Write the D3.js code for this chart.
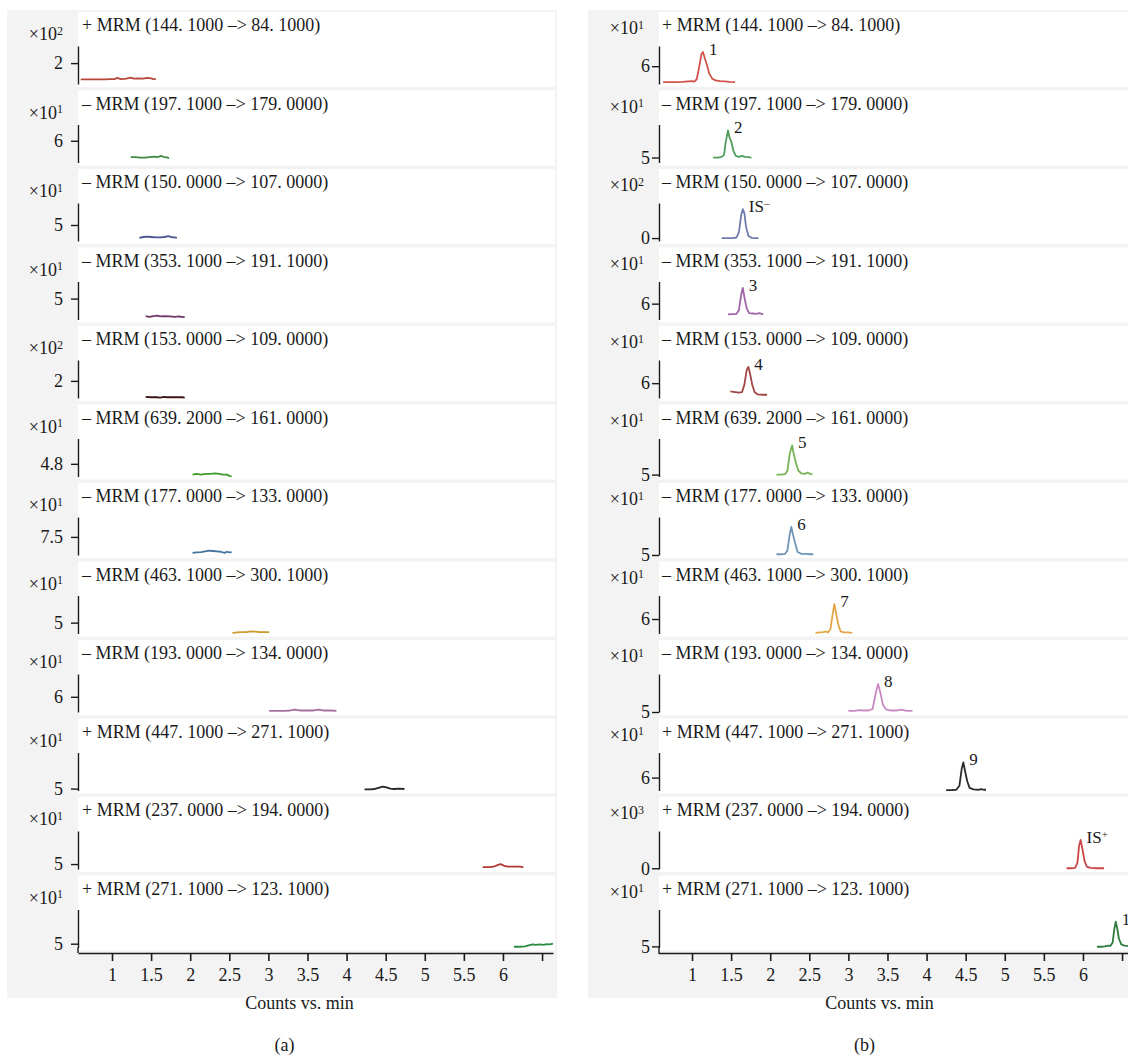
<!DOCTYPE html>
<html>
<head>
<meta charset="utf-8">
<script src="https://cdn.jsdelivr.net/npm/d3@7"></script>
<style>
body { margin: 0; background: #fff; }
svg text { font-family: "Liberation Serif", "DejaVu Serif", serif !important; fill: #1a1a1a; }
</style>
</head>
<body>
<svg id="chart" width="1128" height="1059" style="font-family: 'Liberation Serif', serif"></svg>
<script>
// transitions, same order in both panels
const rowLabels = [
    '+ MRM (144. 1000 \u2013> 84. 1000)',
    '\u2013 MRM (197. 1000 \u2013> 179. 0000)',
    '\u2013 MRM (150. 0000 \u2013> 107. 0000)',
    '\u2013 MRM (353. 1000 \u2013> 191. 1000)',
    '\u2013 MRM (153. 0000 \u2013> 109. 0000)',
    '\u2013 MRM (639. 2000 \u2013> 161. 0000)',
    '\u2013 MRM (177. 0000 \u2013> 133. 0000)',
    '\u2013 MRM (463. 1000 \u2013> 300. 1000)',
    '\u2013 MRM (193. 0000 \u2013> 134. 0000)',
    '+ MRM (447. 1000 \u2013> 271. 1000)',
    '+ MRM (237. 0000 \u2013> 194. 0000)',
    '+ MRM (271. 1000 \u2013> 123. 1000)'
];
const timeTicks = [1, 1.5, 2, 2.5, 3, 3.5, 4, 4.5, 5, 5.5, 6, 6.5];
const timeDomain = [0.565, 6.64];

// panel (a): blank
const expA = [2, 1, 1, 1, 2, 1, 1, 1, 1, 1, 1, 1];
const tickA = [2, 6, 5, 5, 2, 4.8, 7.5, 5, 6, 5, 5, 5];
const yDomA = [[1.45, 2.45], [5.2, 6.6], [4.6, 5.55], [4.45, 5.45], [1.55, 2.55], [4.6, 5.2],
    [7.0, 8.05], [4.7, 5.75], [5.6, 6.6], [4.95, 5.95], [4.87, 5.87], [4.9, 5.9]];
const traceA = [
    [[0.60,1.57],[0.70,1.57],[0.80,1.57],[0.90,1.57],[0.98,1.58],[1.03,1.58],[1.07,1.61],[1.11,1.58],[1.18,1.59],[1.24,1.62],[1.28,1.59],[1.34,1.60],[1.40,1.59],[1.45,1.61],[1.50,1.60],[1.53,1.58],[1.56,1.58]],
    [[1.24,5.40],[1.30,5.40],[1.36,5.38],[1.42,5.38],[1.48,5.40],[1.54,5.42],[1.58,5.40],[1.63,5.44],[1.67,5.40],[1.70,5.39],[1.73,5.36]],
    [[1.35,4.68],[1.40,4.70],[1.45,4.71],[1.50,4.70],[1.56,4.69],[1.62,4.69],[1.67,4.70],[1.72,4.72],[1.77,4.69],[1.80,4.69],[1.83,4.68]],
    [[1.43,4.54],[1.48,4.52],[1.53,4.54],[1.58,4.55],[1.62,4.53],[1.68,4.54],[1.74,4.53],[1.80,4.52],[1.86,4.53],[1.90,4.51],[1.93,4.52]],
    [[1.43,1.58],[1.50,1.57],[1.57,1.57],[1.62,1.56],[1.66,1.58],[1.70,1.57],[1.76,1.57],[1.83,1.57],[1.90,1.57],[1.93,1.56]],
    [[2.03,4.63],[2.08,4.64],[2.14,4.63],[2.20,4.64],[2.26,4.64],[2.32,4.65],[2.37,4.64],[2.42,4.63],[2.47,4.63],[2.50,4.61],[2.53,4.60]],
    [[2.03,7.06],[2.08,7.07],[2.14,7.08],[2.19,7.10],[2.24,7.12],[2.29,7.11],[2.34,7.10],[2.39,7.09],[2.44,7.06],[2.47,7.09],[2.50,7.07],[2.53,7.08]],
    [[2.54,4.72],[2.60,4.73],[2.66,4.74],[2.72,4.74],[2.78,4.76],[2.83,4.75],[2.89,4.74],[2.95,4.74],[3.01,4.74]],
    [[3.01,5.63],[3.10,5.63],[3.20,5.63],[3.28,5.64],[3.34,5.66],[3.40,5.64],[3.50,5.64],[3.58,5.64],[3.64,5.66],[3.70,5.64],[3.80,5.64],[3.87,5.63]],
    [[4.23,4.98],[4.30,4.98],[4.36,4.99],[4.41,5.02],[4.46,5.05],[4.51,5.03],[4.56,5.00],[4.61,4.99],[4.67,5.00],[4.74,4.99]],
    [[5.74,4.92],[5.82,4.92],[5.88,4.93],[5.93,4.97],[5.97,5.00],[6.01,4.96],[6.06,4.93],[6.14,4.93],[6.22,4.93],[6.26,4.91]],
    [[6.14,4.92],[6.22,4.92],[6.28,4.93],[6.34,4.96],[6.38,4.98],[6.42,4.97],[6.47,4.98],[6.52,4.97],[6.56,4.99],[6.60,4.98],[6.64,5.00]]
];

// panel (b): sample
const expB = [1, 1, 2, 1, 1, 1, 1, 1, 1, 1, 3, 1];
const tickB = [6, 5, 0, 6, 6, 5, 5, 6, 5, 6, 0, 5];
const yDomB = [[5.4, 6.68], [4.85, 6.0], [-0.1, 1.2], [5.5, 6.7], [5.5, 6.78], [4.95, 5.95],
    [5.0, 6.0], [5.6, 6.65], [5.0, 6.0], [5.65, 6.68], [-0.02, 1.0], [4.97, 5.97]];
const peakLabels = ['1', '2', 'IS-', '3', '4', '5', '6', '7', '8', '9', 'IS+', '10'];
const traceB = [
    [[0.63,5.46],[0.72,5.46],[0.80,5.46],[0.88,5.47],[0.95,5.49],[1.00,5.50],[1.03,5.48],[1.06,5.56],[1.09,5.95],[1.12,6.40],[1.14,6.48],[1.16,6.30],[1.19,6.05],[1.22,5.75],[1.26,5.58],[1.30,5.52],[1.36,5.50],[1.42,5.49],[1.48,5.47],[1.55,5.46]],
    [[1.27,5.00],[1.33,5.00],[1.38,5.02],[1.41,5.08],[1.43,5.45],[1.46,5.82],[1.48,5.60],[1.50,5.50],[1.53,5.20],[1.56,5.05],[1.60,5.02],[1.64,5.05],[1.68,5.02],[1.72,5.01],[1.76,5.00]],
    [[1.38,0.00],[1.45,0.00],[1.52,0.00],[1.57,0.02],[1.60,0.20],[1.63,0.80],[1.65,0.99],[1.67,0.85],[1.69,0.40],[1.72,0.08],[1.76,0.01],[1.80,0.00],[1.85,0.00]],
    [[1.46,5.66],[1.52,5.67],[1.57,5.68],[1.60,5.80],[1.63,6.30],[1.65,6.50],[1.67,6.20],[1.70,5.85],[1.73,5.70],[1.78,5.69],[1.82,5.68],[1.86,5.70],[1.91,5.66]],
    [[1.49,5.72],[1.55,5.70],[1.60,5.68],[1.64,5.70],[1.67,5.95],[1.70,6.45],[1.72,6.55],[1.74,6.35],[1.77,5.95],[1.80,5.70],[1.84,5.62],[1.90,5.61],[1.96,5.61]],
    [[2.08,5.00],[2.14,5.00],[2.19,5.01],[2.22,5.10],[2.25,5.55],[2.28,5.77],[2.30,5.55],[2.33,5.30],[2.36,5.10],[2.40,5.03],[2.44,5.02],[2.48,5.05],[2.51,5.02],[2.54,5.01]],
    [[2.08,5.02],[2.14,5.02],[2.19,5.03],[2.22,5.12],[2.25,5.55],[2.27,5.74],[2.29,5.55],[2.32,5.30],[2.35,5.08],[2.40,5.03],[2.46,5.03],[2.51,5.02],[2.55,5.02]],
    [[2.58,5.62],[2.63,5.63],[2.68,5.64],[2.71,5.66],[2.74,5.63],[2.77,5.72],[2.80,6.15],[2.82,6.41],[2.84,6.20],[2.87,5.85],[2.90,5.66],[2.94,5.63],[2.99,5.63],[3.05,5.62]],
    [[3.00,5.03],[3.08,5.03],[3.14,5.05],[3.20,5.04],[3.26,5.04],[3.31,5.08],[3.35,5.50],[3.38,5.74],[3.41,5.50],[3.44,5.20],[3.48,5.07],[3.54,5.04],[3.62,5.04],[3.68,5.06],[3.72,5.04],[3.78,5.03],[3.82,5.03]],
    [[4.25,5.66],[4.32,5.66],[4.38,5.67],[4.42,5.78],[4.45,6.25],[4.47,6.41],[4.49,6.20],[4.52,5.90],[4.55,5.72],[4.60,5.68],[4.66,5.67],[4.70,5.69],[4.73,5.67],[4.76,5.67]],
    [[5.79,0.00],[5.85,0.00],[5.90,0.01],[5.93,0.15],[5.95,0.60],[5.97,0.76],[5.99,0.55],[6.02,0.20],[6.05,0.04],[6.10,0.01],[6.18,0.00],[6.27,0.00]],
    [[6.18,4.99],[6.24,4.99],[6.28,5.00],[6.32,5.02],[6.35,5.01],[6.38,5.10],[6.40,5.45],[6.42,5.65],[6.44,5.45],[6.46,5.20],[6.49,5.05],[6.53,5.02],[6.58,5.01],[6.65,5.00]]
];

// line colours
const colorsA = ['#b9483c', '#3f8a43', '#4c5592', '#6f3a68', '#3d1616', '#3f9a2e',
    '#44739e', '#c99a2c', '#a5709e', '#252525', '#b23a32', '#2d8a41'];
const colorsB = ['#d2534c', '#4f9d5c', '#6e7cae', '#a065a8', '#a34646', '#76b457',
    '#7294b6', '#e3a547', '#c98ac4', '#2b2b2b', '#c94646', '#2f7c3e'];

const FONT = '"Liberation Serif", "DejaVu Serif", serif';
const svg = d3.select('#chart');
const rowTop = (i) => 12 + i * 78.5;
const axisY = 953;

const panels = [
    { name: '(a)', bgX: 7, bgW: 550, axisX: 78, rowRight: 555, shift: 0, exp: expA, ticks: tickA,
      doms: yDomA, traces: traceA, colors: colorsA, tickPad: 8, expRight: 63, expDy: 22, labelX: 82, peaks: null },
    { name: '(b)', bgX: 588, bgW: 545, axisX: 659, rowRight: 1135, shift: 580, exp: expB, ticks: tickB,
      doms: yDomB, traces: traceB, colors: colorsB, tickPad: 2, expRight: 644, expDy: 16, labelX: 662, peaks: peakLabels }
];

panels.forEach((p) => {
    const g = svg.append('g');
    g.append('rect').attr('x', p.bgX).attr('y', 10).attr('width', p.bgW).attr('height', 988).attr('fill', '#f3f3f3');

    const x = d3.scaleLinear().domain(timeDomain).range([78 + p.shift, 553 + p.shift]);

    rowLabels.forEach((label, i) => {
        const top = rowTop(i);
        const row = g.append('g');
        row.append('rect').attr('x', p.axisX).attr('y', top)
            .attr('width', p.rowRight - p.axisX).attr('height', 75).attr('fill', '#fff');
        row.append('text').attr('x', p.labelX).attr('y', top + 13).attr('dy', '0.35em')
            .style('font-size', '18px').text(label);
        const ex = row.append('text').attr('x', p.expRight).attr('y', top + p.expDy).attr('dy', '0.35em')
            .attr('text-anchor', 'end').style('font-size', '18px');
        ex.append('tspan').text('\u00d710');
        ex.append('tspan').attr('dy', '-0.45em').style('font-size', '12px').text(p.exp[i]);

        const y = d3.scaleLinear().domain(p.doms[i]).range([top + 72, top + 34]);
        const yAxis = d3.axisLeft(y).tickValues([p.ticks[i]]).tickSize(7).tickSizeOuter(0)
            .tickPadding(p.tickPad).tickFormat((d) => d);
        const ag = row.append('g').attr('transform', 'translate(' + p.axisX + ',0)').call(yAxis);
        ag.attr('font-family', FONT);
        ag.selectAll('text').style('font-size', '18px');
        ag.selectAll('path, line').attr('stroke', '#1a1a1a').attr('stroke-width', 1.4);
        if (i === rowLabels.length - 1) {
            row.append('line').attr('x1', p.axisX).attr('x2', p.axisX)
                .attr('y1', top + 72).attr('y2', axisY).attr('stroke', '#1a1a1a').attr('stroke-width', 1.4);
        }

        const line = d3.line().x((d) => x(d[0])).y((d) => y(d[1]));
        row.append('path').datum(p.traces[i]).attr('d', line)
            .attr('fill', 'none').attr('stroke', p.colors[i]).attr('stroke-width', 1.8)
            .attr('stroke-linejoin', 'round');

        if (p.peaks) {
            const peak = p.traces[i].reduce((a, b) => (b[1] > a[1] ? b : a));
            const pl = row.append('text').attr('x', x(peak[0]) + 6).attr('y', y(peak[1]) - 3)
                .attr('dy', '0.35em').style('font-size', '17px');
            const lab = p.peaks[i];
            if (lab.startsWith('IS')) {
                pl.append('tspan').text('IS');
                pl.append('tspan').attr('dy', '-0.45em').style('font-size', '11px').text(lab[2] === '-' ? '\u2013' : '+');
            } else {
                pl.text(lab);
            }
        }
    });

    const xAxis = d3.axisBottom(x).tickValues(timeTicks).tickSize(8).tickSizeOuter(0).tickPadding(7)
        .tickFormat((d) => (d === 6.5 ? '' : d));
    const xg = g.append('g').attr('transform', 'translate(0,' + axisY + ')').call(xAxis);
    xg.attr('font-family', FONT);
    xg.selectAll('text').style('font-size', '18px');
    xg.selectAll('path, line').attr('stroke', '#1a1a1a').attr('stroke-width', 1.6);

    const mid = (x.range()[0] + x.range()[1]) / 2 - 16;
    g.append('text').attr('x', mid).attr('y', 1003).attr('dy', '0.35em').attr('text-anchor', 'middle')
        .style('font-size', '18px').text('Counts vs. min');
    g.append('text').attr('x', mid - 15).attr('y', 1045).attr('dy', '0.35em').attr('text-anchor', 'middle')
        .style('font-size', '18px').text(p.name);
});

svg.selectAll('text').style('font-family', FONT);
</script>
</body>
</html>
